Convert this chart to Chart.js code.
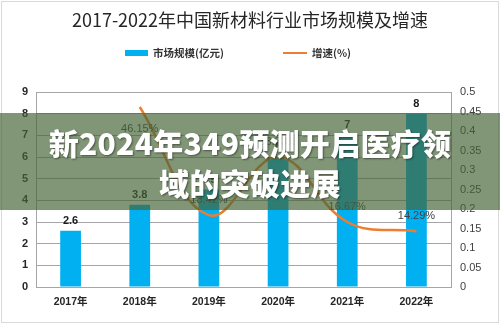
<!DOCTYPE html>
<html>
<head>
<meta charset="utf-8">
<script src="https://cdn.jsdelivr.net/npm/chart.js@4/dist/chart.umd.min.js"></script>
<style>
  html, body { margin: 0; padding: 0; background: #fff; overflow: hidden; }
  #wrap { position: relative; width: 500px; height: 325px; }
  #band {
    position: absolute; left: 0; top: 113px; width: 500px; height: 97px;
    background: rgba(70, 100, 55, 0.68);
    color: #fff; text-align: center;
    font-family: "Noto Sans CJK SC", sans-serif; font-weight: 900;
    font-size: 30px; line-height: 40px; letter-spacing: 0.3px;
    text-shadow: 1px 1px 2px rgba(0,0,0,0.45);
    box-sizing: border-box; padding-top: 9px;
  }
</style>
</head>
<body>
<div id="wrap">
  <canvas id="c" width="500" height="325"></canvas>
  <div id="band">新2024年349预测开启医疗领<br>域的突破进展</div>
</div>
<script>
const titleText = '2017-2022年中国新材料行业市场规模及增速';
const years = ['2017年', '2018年', '2019年', '2020年', '2021年', '2022年'];
const marketSize = [2.6, 3.8, 4.5, 6, 7, 8];            // 亿元
const growthRate = [null, 0.4615, 0.1842, 0.3333, 0.1667, 0.1429];
const growthLabels = ['', '46.15%', '18.42%', '33.33%', '16.67%', '14.29%'];
const seriesNames = ['市场规模(亿元)', '增速(%)'];

const BLUE = '#00B0F0';
const ORANGE = '#ED7D31';
const GRID = '#a6a6a6';
const CJK = '"Noto Sans CJK SC", sans-serif';
const LATIN = '"Liberation Sans", "Noto Sans CJK SC", sans-serif';

// Title, legend, frame and value labels
const decor = {
  id: 'decor',
  afterDatasetsDraw(chart) {
    const ctx = chart.ctx;
    ctx.save();
    // bar values
    const barMeta = chart.getDatasetMeta(1);
    ctx.fillStyle = '#1a1a1a';
    ctx.font = 'bold 11px ' + LATIN;
    ctx.textAlign = 'center';
    ctx.textBaseline = 'middle';
    barMeta.data.forEach((el, i) => {
      ctx.fillText(String(marketSize[i]), el.x, el.y - 10);
    });
    // growth values
    const lineMeta = chart.getDatasetMeta(0);
    ctx.fillStyle = '#404040';
    ctx.font = '11px ' + LATIN;
    lineMeta.data.forEach((el, i) => {
      if (growthRate[i] === null) return;
      const dy = i === 1 ? 22 : -15;
      ctx.fillText(growthLabels[i], el.x, el.y + dy);
    });
    ctx.restore();
  },
  afterDraw(chart) {
    const ctx = chart.ctx;
    ctx.save();
    // frame
    ctx.strokeStyle = '#d9d9d9';
    ctx.lineWidth = 1;
    ctx.strokeRect(1.5, 1.5, 497, 321);
    // title
    ctx.fillStyle = '#262626';
    ctx.font = '18px ' + CJK;
    ctx.textAlign = 'center';
    ctx.textBaseline = 'middle';
    ctx.fillText(titleText, 250, 20);
    // legend
    ctx.font = 'bold 10.5px ' + CJK;
    ctx.textAlign = 'left';
    ctx.fillStyle = BLUE;
    ctx.fillRect(125, 50, 23, 6);
    ctx.fillStyle = '#333';
    ctx.fillText(seriesNames[0], 153, 53);
    ctx.strokeStyle = ORANGE;
    ctx.lineWidth = 2;
    ctx.beginPath();
    ctx.moveTo(283, 53);
    ctx.lineTo(307, 53);
    ctx.stroke();
    ctx.fillText(seriesNames[1], 312, 53);
    ctx.restore();
  }
};

new Chart(document.getElementById('c'), {
  data: {
    labels: years,
    datasets: [
      {
        type: 'line',
        label: seriesNames[1],
        data: growthRate,
        yAxisID: 'y2',
        borderColor: ORANGE,
        borderWidth: 2.5,
        pointRadius: 0,
        tension: 0.4,
        order: 0
      },
      {
        type: 'bar',
        label: seriesNames[0],
        data: marketSize,
        yAxisID: 'y',
        backgroundColor: BLUE,
        barPercentage: 0.3,
        categoryPercentage: 1,
        order: 1
      }
    ]
  },
  options: {
    responsive: false,
    animation: false,
    devicePixelRatio: 1,
    layout: { padding: { top: 92, left: 0, right: 0, bottom: 0 } },
    plugins: {
      legend: { display: false },
      title: { display: false },
      tooltip: { enabled: false }
    },
    scales: {
      x: {
        grid: { display: false, drawTicks: false },
        border: { color: GRID },
        ticks: { color: '#262626', font: { family: LATIN, size: 10.5, weight: 'bold' }, padding: 9 },
        afterFit(s) { s.height = 38; }
      },
      y: {
        position: 'left',
        min: 0, max: 9,
        ticks: { stepSize: 1, color: '#262626', font: { family: LATIN, size: 11, weight: 'bold' }, padding: 8 },
        grid: { color: GRID, drawTicks: false },
        border: { color: GRID },
        afterFit(s) { s.width = 36; }
      },
      y2: {
        position: 'right',
        min: 0, max: 0.5,
        ticks: {
          stepSize: 0.05, color: '#404040', font: { family: LATIN, size: 11 }, padding: 9,
          callback: v => String(Number(v.toFixed(2)))
        },
        grid: { display: false, drawTicks: false },
        border: { color: GRID },
        afterFit(s) { s.width = 49; }
      }
    }
  },
  plugins: [decor]
});
</script>
</body>
</html>
